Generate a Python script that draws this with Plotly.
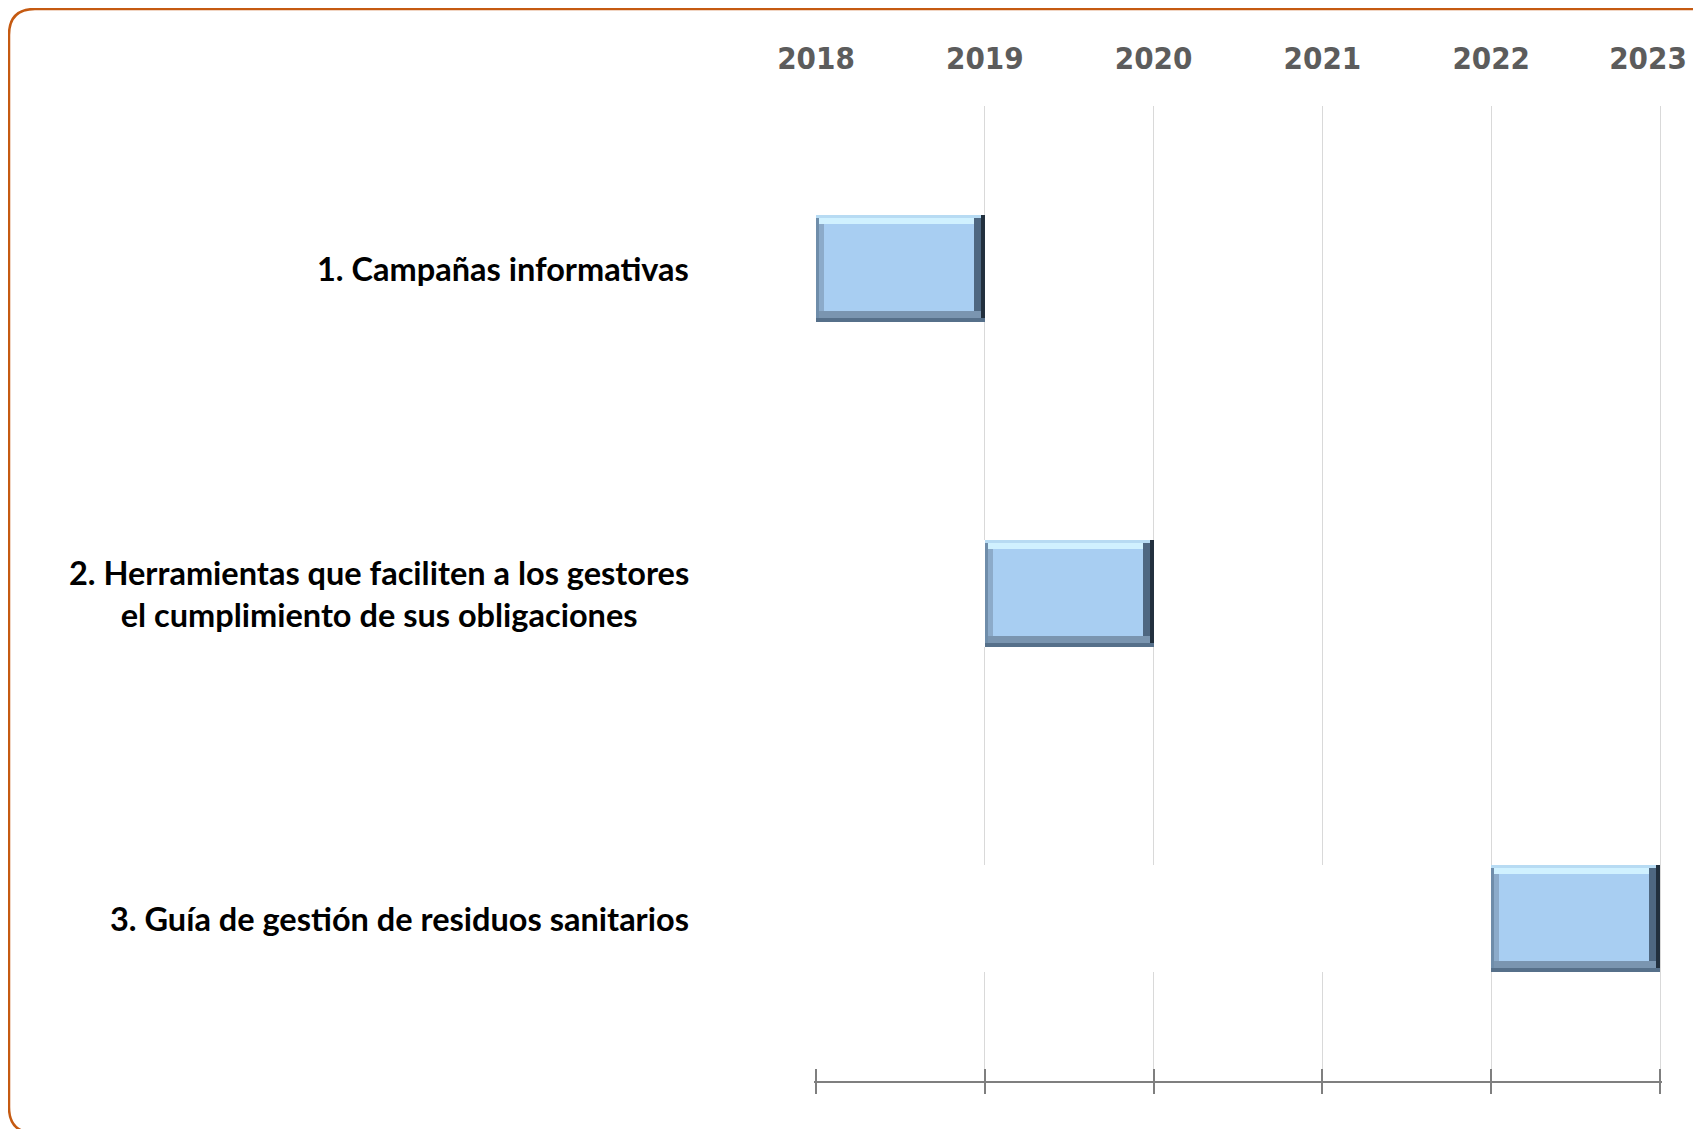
import numpy as np
import plotly.graph_objects as go

# ---------------- data ----------------
tasks = [
    "1. Campañas informativas",
    "2. Herramientas que faciliten a los gestores<br>el cumplimiento de sus obligaciones",
    "3. Guía de gestión de residuos sanitarios",
]
start_year = [2018, 2019, 2022]
end_year = [2019, 2020, 2023]
years = [2018, 2019, 2020, 2021, 2022, 2023]
year_labels = ["2018", "2019", "2020", "2021", "2022", "2023"]

# ---------------- layout geometry (pixels, page coordinates) ----------------
OFF = 8                      # default body margin of the html page
PAGE_W, PAGE_H = 1701, 1129
W, H = PAGE_W - OFF, PAGE_H - OFF
X2018, X2023 = 816, 1660     # page x of first / last year
YTOP, YBOT = 106, 1081       # page y of plot top / axis line
EXT = 2                      # tiny extension so edge gridlines / ticks are kept
XPX = (X2023 - X2018) / (years[-1] - years[0])
xr = [years[0] - EXT / XPX, years[-1] + EXT / XPX]
PX0, PX1 = X2018 - EXT, X2023 + EXT
ML, MR, MT, MB = PX0 - OFF, PAGE_W - PX1, YTOP - OFF, PAGE_H - YBOT
PW, PH = PX1 - PX0, YBOT - YTOP
YPX = PH / len(tasks)

start = np.array(start_year, dtype=float)
end = np.array(end_year, dtype=float)
ycat = list(range(len(tasks)))
n = len(tasks)

w = 107 / YPX          # bar thickness (category units)

fig = go.Figure()

def add_bar(base, length, offset, width, color):
    fig.add_trace(go.Bar(
        orientation="h", y=ycat, x=length, base=base,
        offset=offset, width=width,
        marker=dict(color=color, line=dict(width=0)),
        hoverinfo="skip", showlegend=False,
    ))

# white segment before each bar (hides grid like the original)
add_bar(np.full(n, years[0]), start - years[0], -w / 2, w, "#FFFFFF")

# bevel levels, outside -> inside: (left, top, right, bottom) px and colours
bevel = [
    ((3, 3, 4, 4), ("#6F8DAA", "#B7DBF3", "#22303E", "#56708A")),
    ((5, 6, 7, 7), ("#8CABCA", "#D0F1FF", "#4E6781", "#7A95B0")),
]
face_color = "#A8CEF2"

x0, x1 = start.copy(), end.copy()
off, wid = -w / 2, w
for (l, t, r, b), (cl, ct, cr, cb) in bevel:
    dl, dt, dr, db = l / XPX, t / YPX, r / XPX, b / YPX
    add_bar(x0, x1 - x0, off, wid, cb)                          # bottom
    add_bar(x1 - dr, np.full(n, dr), off, wid - db, cr)          # right
    add_bar(x0, x1 - x0 - dr, off, wid - db, ct)                 # top
    add_bar(x0, np.full(n, dl), off + dt, wid - dt - db, cl)     # left
    x0, x1 = x0 + dl, x1 - dr
    off, wid = off + dt, wid - dt - db
add_bar(x0, x1 - x0, off, wid, face_color)

# helper traces so the overlaid axes get drawn
for ax in ["x2", "x3", "x4", "x5"]:
    fig.add_trace(go.Scatter(x=[None], y=[None], xaxis=ax, yaxis="y",
                             mode="markers", hoverinfo="skip", showlegend=False))

# task labels
for i, t in enumerate(tasks):
    fig.add_annotation(
        x=(691 - PX0) / PW, xref="paper", xanchor="right",
        y=i, yref="y", yanchor="middle",
        text=t, showarrow=False, align="center",
        font=dict(family="Lato, 'Open Sans', sans-serif", size=32.5,
                  color="#000000", weight="bold"),
    )

# rounded orange frame (page px -> paper)
def px(x):
    return (x - PX0) / PW

def py(y):
    return (YBOT - y) / PH

fx0, fy0, fx1, fy1, rr = 9, 9, 1720, 1133, 26
path = (
    f"M {px(fx0 + rr)},{py(fy0)} L {px(fx1 - rr)},{py(fy0)} "
    f"Q {px(fx1)},{py(fy0)} {px(fx1)},{py(fy0 + rr)} "
    f"L {px(fx1)},{py(fy1 - rr)} Q {px(fx1)},{py(fy1)} {px(fx1 - rr)},{py(fy1)} "
    f"L {px(fx0 + rr)},{py(fy1)} Q {px(fx0)},{py(fy1)} {px(fx0)},{py(fy1 - rr)} "
    f"L {px(fx0)},{py(fy0 + rr)} Q {px(fx0)},{py(fy0)} {px(fx0 + rr)},{py(fy0)} Z"
)
fig.add_shape(type="path", path=path, xref="paper", yref="paper",
              line=dict(color="#C55A11", width=2.5), fillcolor="rgba(0,0,0,0)",
              layer="above")

year_font = dict(family="'Liberation Sans Narrow', 'DejaVu Sans Condensed', 'Arial Narrow', sans-serif",
                 size=31, color="#5C5C5C", weight="bold")

fig.update_layout(
    width=W, height=H,
    margin=dict(l=ML, r=MR, t=MT, b=MB, pad=0),
    paper_bgcolor="#FFFFFF", plot_bgcolor="#FFFFFF",
    barmode="overlay", bargap=0,
    xaxis=dict(range=xr, tickmode="array", tickvals=years[1:], showgrid=True,
               gridcolor="#D9D9D9", gridwidth=1, ticks="", showticklabels=False,
               showline=True, linecolor="#7F7F7F", linewidth=2, zeroline=False,
               fixedrange=True),
    xaxis2=dict(range=xr, overlaying="x", anchor="y", side="bottom",
                tickmode="array", tickvals=years, ticks="outside", ticklen=12,
                tickwidth=2, tickcolor="#7F7F7F", showticklabels=False,
                showgrid=False, zeroline=False, showline=False),
    xaxis3=dict(range=xr, overlaying="x", anchor="y", side="bottom",
                tickmode="array", tickvals=years, ticks="inside", ticklen=12,
                tickwidth=2, tickcolor="#7F7F7F", showticklabels=False,
                showgrid=False, zeroline=False, showline=False),
    xaxis4=dict(range=xr, overlaying="x", anchor="y", side="top",
                tickmode="array", tickvals=years[:-1], ticktext=year_labels[:-1],
                ticks="", showgrid=False, zeroline=False, showline=False,
                ticklabelstandoff=30, tickfont=year_font),
    xaxis5=dict(range=xr, overlaying="x", anchor="y", side="top",
                tickmode="array", tickvals=years[-1:], ticktext=year_labels[-1:],
                ticks="", showgrid=False, zeroline=False, showline=False,
                ticklabelstandoff=30, ticklabelshift=-12, tickfont=year_font),
    yaxis=dict(range=[len(tasks) - 0.5, -0.5], showticklabels=False,
               showgrid=False, zeroline=False, showline=False, ticks="",
               fixedrange=True),
)

fig.write_html("out.html")
